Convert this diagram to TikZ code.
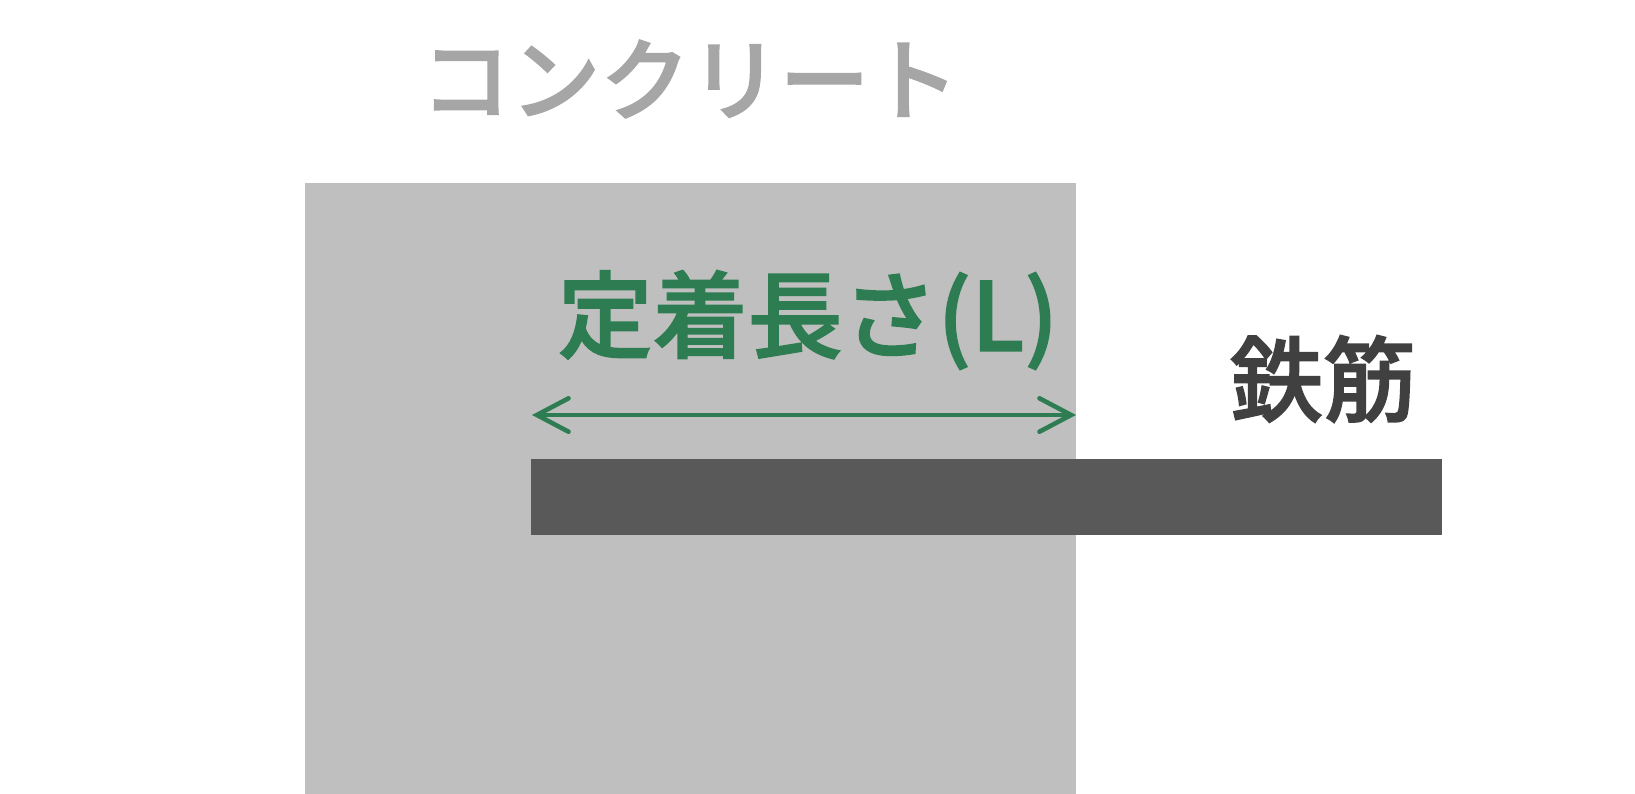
\documentclass[tikz,border=0pt]{standalone}
\usepackage{fontspec}
\newfontfamily\jpfont[FakeBold=1.6]{Noto Sans CJK JP Medium}
\usetikzlibrary{positioning,arrows.meta}
\definecolor{concretegray}{HTML}{BFBFBF}
\definecolor{rebargray}{HTML}{595959}
\definecolor{lengthgreen}{HTML}{2E7D52}
\definecolor{titlegray}{HTML}{A6A6A6}
\definecolor{labelgray}{HTML}{404040}
\begin{document}
\begin{tikzpicture}[x=0.01cm,y=-0.01cm,
    block/.style={rectangle,inner sep=0pt,outer sep=0pt,anchor=north west},
    lbl/.style={inner sep=0pt,font=\jpfont}]
        \useasboundingbox (0,0) rectangle (1635,794);
        \node[block,fill=concretegray,minimum width=7.71cm,minimum height=6.11cm] (conc) at (305,183) {};
        \node[block,fill=rebargray,minimum width=9.10cm,minimum height=0.76cm] (rebar) at (531,459) {};
        
        \node[lbl,text=titlegray,font=\jpfont\fontsize{25.5}{30}\selectfont] (ctitle) at (690,79) {コンクリート};
        \node[lbl,text=lengthgreen,font=\jpfont\fontsize{27}{34}\selectfont] (len) at (808,320) {定着長さ(L)};
        \node[lbl,text=labelgray,font=\jpfont\fontsize{26.5}{32}\selectfont] (rtitle) at (1323,379) {鉄筋};
        
        \coordinate (la) at (532,415);
        \coordinate (lb) at (1076,415);
        \draw[lengthgreen,line width=1.3pt,{Straight Barb[length=9pt,width=9.5pt,line cap=round]}-{Straight Barb[length=9pt,width=9.5pt,line cap=round]}] (la) -- (lb);
    \end{tikzpicture}
\end{document}
